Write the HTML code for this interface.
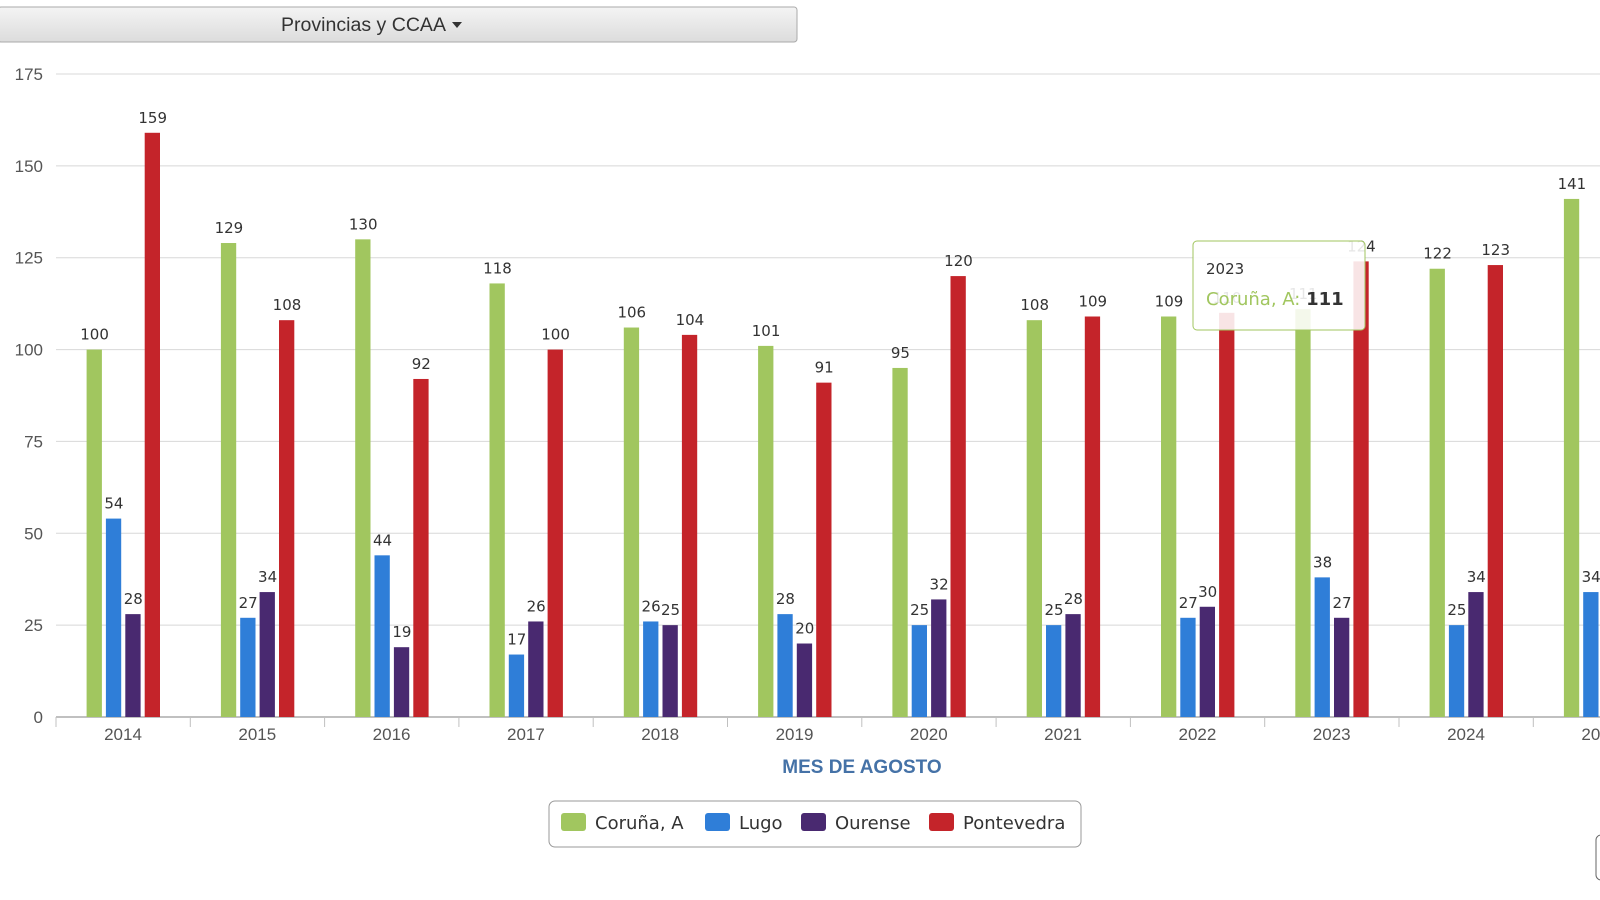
<!DOCTYPE html>
<html><head><meta charset="utf-8"><style>
body{margin:0;width:1600px;height:900px;background:#fff;overflow:hidden;font-family:"Liberation Sans Narrow","Liberation Sans",sans-serif}
svg{position:absolute;left:0;top:0}
</style></head><body>
<svg id="s" width="1600" height="900" xmlns="http://www.w3.org/2000/svg"></svg>
<script>
var s=document.getElementById('s'),h='';
h+='<defs><linearGradient id="bg" x1="0" y1="0" x2="0" y2="1"><stop offset="0" stop-color="#f4f4f4"/><stop offset="1" stop-color="#dcdcdc"/></linearGradient></defs>';
h+='<rect x="-2" y="7" width="799" height="35" rx="3" fill="url(#bg)" stroke="#aaa"/>';
h+='<text x="281" y="31" font-family="Liberation Sans Narrow,Liberation Sans,sans-serif" font-size="19" textLength="165" lengthAdjust="spacingAndGlyphs" fill="#333">Provincias y CCAA</text><path d="M452 22l10 0-5 6z" fill="#333"/>';
var y0=717,k=643/175,L=56,cw=134.3;
for(var v=0;v<=175;v+=25){var y=y0-v*k;
h+='<line x1="'+L+'" x2="1600" y1="'+y+'" y2="'+y+'" stroke="'+(v==0?'#c0c0c0':'#d8d8d8')+'" stroke-width="'+(v==0?2:1)+'"/>';
h+='<text x="43" y="'+(y+6)+'" font-size="17" text-anchor="end" fill="#555">'+v+'</text>';}
var d=[[100,54,28,159],[129,27,34,108],[130,44,19,92],[118,17,26,100],[106,26,25,104],[101,28,20,91],[95,25,32,120],[108,25,28,109],[109,27,30,110],[111,38,27,124],[122,25,34,123],[141,34,null,null]];
var c=['#a1c65f','#2f7ed8','#492970','#c4242a'],off=[30.6,49.9,69.3,88.7];
for(var i=0;i<12;i++){var x0=L+i*cw;
h+='<line x1="'+x0+'" x2="'+x0+'" y1="'+y0+'" y2="'+(y0+10)+'" stroke="#c0c0c0"/>';
h+='<text x="'+(x0+67)+'" y="'+(y0+23)+'" font-size="17" text-anchor="middle" fill="#555">'+(2014+i)+'</text>';
for(var j=0;j<4;j++){var val=d[i][j];if(val==null)continue;var bx=x0+off[j],bh=val*k;
h+='<rect x="'+bx+'" y="'+(y0-bh)+'" width="15.3" height="'+bh+'" fill="'+c[j]+'"/>';
h+='<text x="'+(bx+8)+'" y="'+(y0-bh-10)+'" font-family="DejaVu Sans,sans-serif" font-size="15" text-anchor="middle" fill="#333">'+val+'</text>';}}
h+='<text x="862" y="773" font-size="19" font-weight="bold" text-anchor="middle" fill="#4572a7">MES DE AGOSTO</text>';
h+='<rect x="549" y="801" width="532" height="46" rx="6" fill="#fff" stroke="#999"/>';
var lg=[['Coruña, A',561],['Lugo',705],['Ourense',801],['Pontevedra',929]];
for(var j=0;j<4;j++){h+='<rect x="'+lg[j][1]+'" y="813" width="25" height="18" rx="3" fill="'+c[j]+'"/><text x="'+(lg[j][1]+34)+'" y="829" font-family="DejaVu Sans,sans-serif" font-size="18" fill="#333">'+lg[j][0]+'</text>';}
h+='<rect x="1596" y="835" width="20" height="45" rx="5" fill="#fff" stroke="#666"/>';
h+='<rect x="1193" y="241" width="172" height="89" rx="4" fill="rgba(255,255,255,0.88)" stroke="#a1c65f"/>';
h+='<text x="1206" y="274" font-family="DejaVu Sans,sans-serif" font-size="15" fill="#333">2023</text>';
h+='<text x="1206" y="305" font-family="DejaVu Sans,sans-serif" font-size="18" fill="#a1c65f">Coruña, A: <tspan fill="#333" font-weight="bold">111</tspan></text>';
s.innerHTML=h;
</script>
</body></html>
